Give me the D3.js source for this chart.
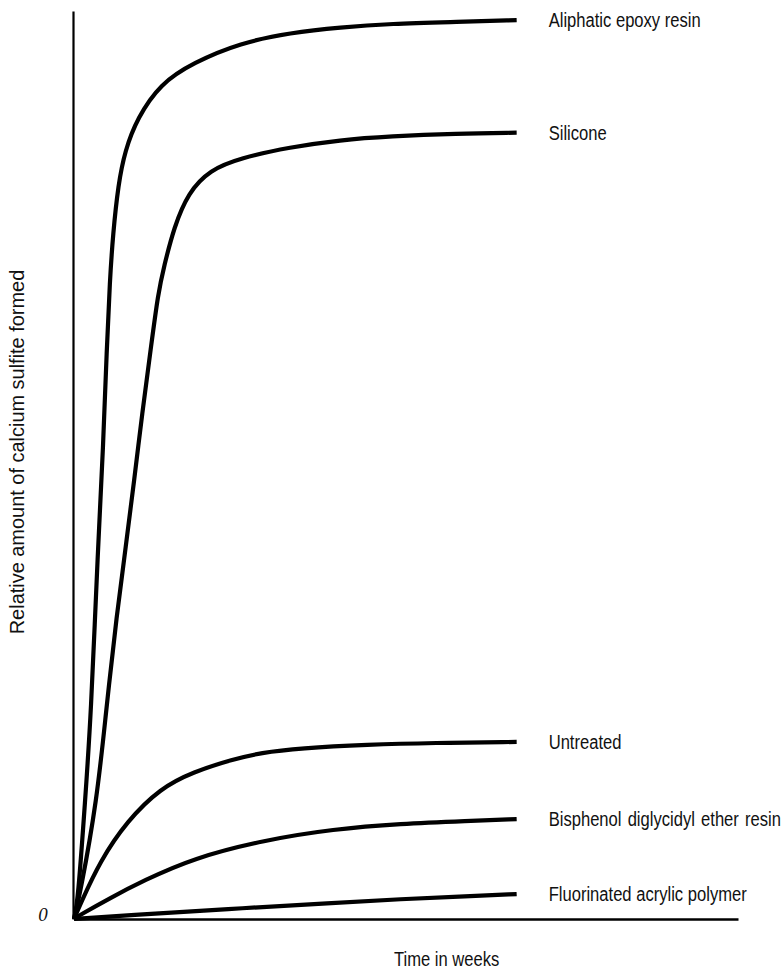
<!DOCTYPE html>
<html>
<head>
<meta charset="utf-8">
<script src="https://cdn.jsdelivr.net/npm/d3@7"></script>
<style>
  html, body { margin: 0; padding: 0; background: #fff; }
  svg { display: block; }
  .lbl { font-family: "Liberation Sans", Arial, sans-serif; fill: #111; }
</style>
</head>
<body>
<script>
// ---- data ----
const seriesNames = ["Aliphatic epoxy resin", "Silicone", "Untreated", "Bisphenol diglycidyl ether resin", "Fluorinated acrylic polymer"];
const aliphatic = [[0,0],[0.09,2.0],[0.25,13.0],[0.38,22.0],[0.54,40.9],[0.66,51.9],[0.74,62.9],[0.81,70.3],[0.88,75.4],[1.0,80.9],[1.15,84.6],[1.43,88.2],[1.95,92.0],[2.69,94.3],[3.76,96.5],[4.89,97.6],[6.02,98.2],[7.15,98.6],[8.67,98.8],[10,99.0]];
const silicone = [[0,0],[0.14,2.8],[0.52,13.1],[0.72,22.7],[0.97,33.7],[1.17,41.0],[1.36,48.3],[1.54,55.7],[1.74,63.0],[1.90,68.9],[2.03,71.8],[2.26,76.2],[2.58,80.0],[3.07,82.5],[3.75,83.8],[4.88,85.0],[6.01,85.8],[7.14,86.2],[8.65,86.5],[10,86.6]];
const untreated = [[0,0],[0.14,1.6],[0.59,6.4],[1.20,10.8],[1.95,14.4],[2.69,16.2],[3.60,17.6],[4.21,18.3],[5.11,18.8],[6.63,19.2],[8.12,19.4],[10,19.5]];
const bisphenol = [[0,0],[0.14,0.45],[0.81,2.3],[1.56,4.2],[2.69,6.7],[4.3,8.7],[5.86,9.9],[7.38,10.5],[8.89,10.8],[10,11.0]];
const fluorinated = [[0,0],[1.2,0.4],[3.46,1.1],[5.86,1.76],[7.38,2.2],[8.89,2.5],[10,2.75]];
const seriesData = [aliphatic, silicone, untreated, bisphenol, fluorinated];
const xDomain = [0, 15];
const yDomain = [0, 100];
const originLabel = "0";
const xTitle = "Time in weeks";
const yTitle = "Relative amount of calcium sulfite formed";

// ---- layout ----
const W = 784, H = 972;
const svg = d3.select("body").append("svg").attr("width", W).attr("height", H);

const x = d3.scaleLinear().domain(xDomain).range([74, 738]);
const y = d3.scaleLinear().domain(yDomain).range([919, 11]);
const squeeze = 0.79;

// axes
const xAxis = d3.axisBottom(x).tickValues([]).tickSizeOuter(0);
const yAxis = d3.axisLeft(y).tickValues([]).tickSizeOuter(0);
const gx = svg.append("g").attr("transform", `translate(0,${y(0)})`).call(xAxis);
gx.select(".domain").attr("stroke", "#000").attr("stroke-width", 2.6);
const gy = svg.append("g").attr("transform", `translate(${x(0) - 1},0)`).call(yAxis);
gy.select(".domain").attr("stroke", "#000").attr("stroke-width", 2.2);

// curves
const line = d3.line().x(d => x(d[0])).y(d => y(d[1])).curve(d3.curveBasis);
svg.append("g").selectAll("path").data(seriesData).join("path")
  .attr("d", line)
  .attr("fill", "none")
  .attr("stroke", "#000")
  .attr("stroke-width", 4.2)
  .attr("stroke-linejoin", "round")
  .attr("stroke-linecap", "butt");

// series labels
svg.append("g").selectAll("text").data(seriesData).join("text")
  .attr("class", "lbl")
  .attr("font-size", 21)
  .attr("transform", (d) => {
    const last = d[d.length - 1];
    return `translate(${x(last[0]) + 32},${y(last[1]) + 7}) scale(${squeeze},1)`;
  })
  .attr("word-spacing", (d, i) => i === 3 ? 2 : 0)
  .text((d, i) => seriesNames[i]);

// origin label
svg.append("text")
  .attr("x", 43).attr("y", y(0) + 2)
  .attr("text-anchor", "middle")
  .attr("font-family", "Liberation Serif, Times New Roman, serif")
  .attr("font-style", "italic")
  .attr("font-size", 19)
  .attr("fill", "#111")
  .text(originLabel);

// axis titles
svg.append("text")
  .attr("class", "lbl")
  .attr("font-size", 21)
  .attr("transform", `translate(394,966) scale(${squeeze},1)`)
  .text(xTitle);

svg.append("text")
  .attr("class", "lbl")
  .attr("font-size", 21)
  .attr("text-anchor", "middle")
  .attr("transform", `translate(24,452) rotate(-90) scale(0.95,1)`)
  .text(yTitle);
</script>
</body>
</html>
